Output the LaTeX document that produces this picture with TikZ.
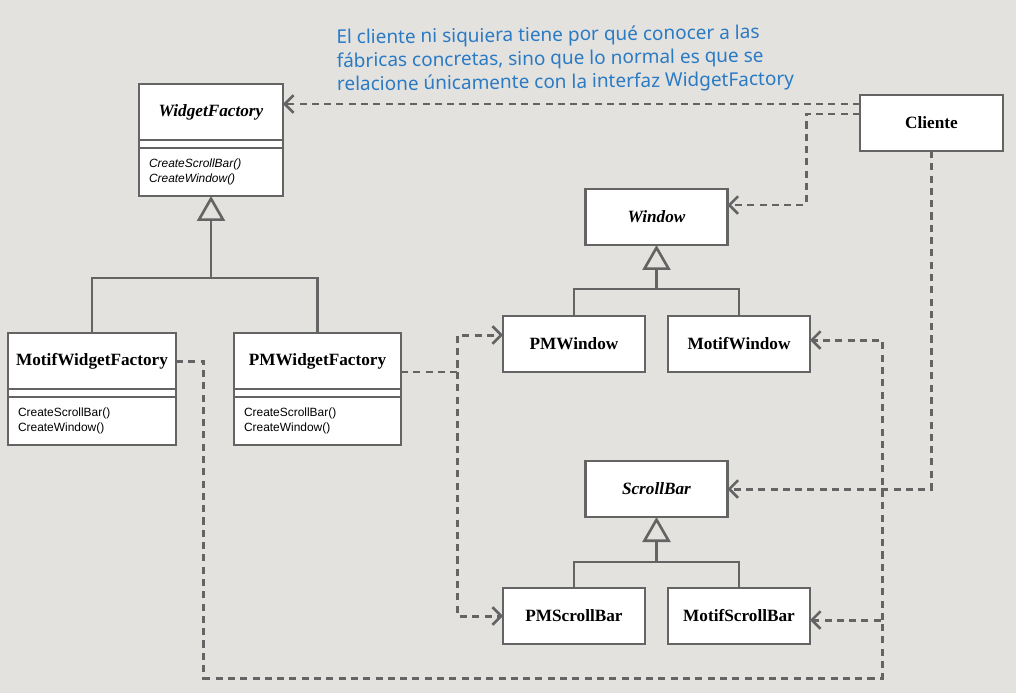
\documentclass[tikz,border=0pt]{standalone}
\usepackage{fontspec}
\setmainfont{Liberation Serif}
\setsansfont{Liberation Sans}
\newfontfamily\notefont{Noto Sans}
\usetikzlibrary{positioning,arrows.meta}
\definecolor{bggray}{RGB}{227,226,223}
\definecolor{linegray}{RGB}{100,100,100}
\definecolor{noteblue}{RGB}{42,122,196}
\begin{document}
\begin{tikzpicture}[x=0.02cm, y=-0.02cm,
		cls/.style={draw=linegray, fill=white, line width=1.5pt, outer sep=0pt,
			minimum height=1.12cm, font=\fontsize{9.8}{11}\selectfont\bfseries},
		blank/.style={cls, inner sep=0pt, minimum height=0.16cm},
		mth/.style={cls, font=\sffamily\fontsize{6.8}{8.5}\selectfont, align=left,
			inner xsep=0.2cm, minimum height=0.96cm},
		inh/.style={draw=linegray, line width=1.5pt,
			-{Triangle[open, length=0.5cm, width=0.56cm, line width=1.5pt]}},
		dep/.style={draw=linegray, line width=1.7pt, dash pattern=on 4pt off 3pt,
			-{Straight Barb[length=5pt, width=10pt, line width=1.5pt]}}
		]
	\fill[bggray] (0,0) rectangle (1016,693);
	\useasboundingbox (0,0) rectangle (1016,693);

	\node [cls, minimum width=2.88cm] (wf) at (211,112) {\textit{WidgetFactory}};
	\node [blank, minimum width=2.88cm, below=0pt of wf] (wfb) {};
	\node [mth, text width=2.48cm, below=0pt of wfb] (wfm) {\textit{CreateScrollBar()}\\\textit{CreateWindow()}};

	\node [cls, minimum width=3.36cm] (mwf) at (92,361) {MotifWidgetFactory};
	\node [blank, minimum width=3.36cm, below=0pt of mwf] (mwfb) {};
	\node [mth, text width=2.96cm, below=0pt of mwfb] (mwfm) {CreateScrollBar()\\CreateWindow()};

	\node [cls, minimum width=3.34cm] (pwf) at (317.5,361) {PMWidgetFactory};
	\node [blank, minimum width=3.34cm, below=0pt of pwf] (pwfb) {};
	\node [mth, text width=2.94cm, below=0pt of pwfb] (pwfm) {CreateScrollBar()\\CreateWindow()};

	\node [cls, minimum width=2.86cm] (cli) at (931.5,123) {Cliente};
	\node [cls, minimum width=2.84cm] (win) at (656.5,217) {\textit{Window}};
	\node [cls, minimum width=2.84cm] (pmw) at (574,344) {PMWindow};
	\node [cls, minimum width=2.84cm] (mow) at (739,344) {MotifWindow};
	\node [cls, minimum width=2.84cm] (sb) at (656.5,489) {\textit{ScrollBar}};
	\node [cls, minimum width=2.84cm] (pms) at (574,616) {PMScrollBar};
	\node [cls, minimum width=2.84cm] (mos) at (739,616) {MotifScrollBar};

	\node [anchor=north west, align=left, rotate=0.7, text=noteblue, inner sep=0pt,
		font=\notefont\fontsize{10.8}{13.4}\selectfont] (nota) at (336,29)
		{El cliente ni siquiera tiene por qué conocer a las\\
		 fábricas concretas, sino que lo normal es que se\\
		 relacione únicamente con la interfaz WidgetFactory};

	\coordinate (wfj) at (211,278);
	\draw [draw=linegray, line width=1.5pt] (mwf.north) |- (wfj) -| (pwf.north);
	\draw [inh] (wfj) -- (wfm.south);
	\coordinate (winj) at (656.5,289);
	\draw [draw=linegray, line width=1.5pt] (pmw.north) |- (winj) -| (mow.north);
	\draw [inh] (winj) -- (win.south);
	\coordinate (sbj) at (656.5,562);
	\draw [draw=linegray, line width=1.5pt] (pms.north) |- (sbj) -| (mos.north);
	\draw [inh] (sbj) -- (sb.south);

	\coordinate (c1) at ([yshift=0.38cm]cli.west);
	\coordinate (c2) at ([yshift=0.18cm]cli.west);
	\coordinate (w2) at ([yshift=0.24cm]win.east);
	\draw [dep] (c1) -- (c1 -| wf.east);
	\draw [dep] (c2) -- ++(-54,0) |- (w2);
	\draw [dep] (cli.south) |- (sb.east);

	\coordinate (p1) at ([yshift=-0.22cm]pwf.east);
	\coordinate (p2) at ([yshift=0.18cm]pmw.west);
	\draw [dep] (p1) -- ++(57,0) coordinate (pj) |- (p2);
	\draw [dep] (pj) |- (pms.west);

	\coordinate (ms2) at ([yshift=-0.08cm]mos.east);
	\coordinate (mw2) at ([yshift=0.08cm]mow.east);
	\coordinate (mj) at (882,678);
	\draw [dep] (mwf.east) -- ++(28,0) |- (mj) |- (ms2);
	\draw [dep] (mj |- ms2) |- (mw2);
\end{tikzpicture}
\end{document}
